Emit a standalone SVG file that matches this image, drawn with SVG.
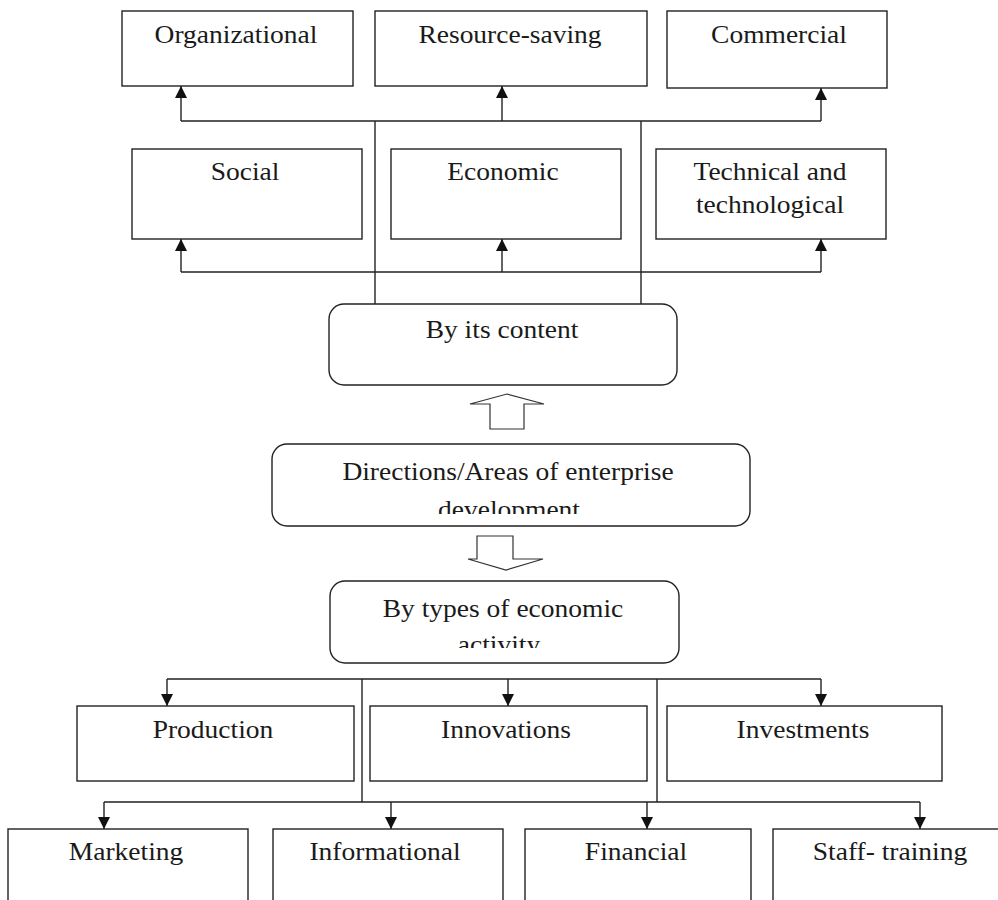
<svg xmlns="http://www.w3.org/2000/svg" width="998" height="900" viewBox="0 0 998 900">
<style>
.box{fill:#fff;stroke:#222;stroke-width:1.4}
.rbox{fill:#fff;stroke:#222;stroke-width:1.4}
.ln{fill:none;stroke:#222;stroke-width:1.4}
.arr{fill:none;stroke:#222;stroke-width:1.4;marker-end:url(#ah)}
.big{fill:#fff;stroke:#333;stroke-width:1.2}
text{font-family:"Liberation Serif","Times New Roman",serif;font-size:25px;fill:#1a1a1a;text-anchor:middle}
</style>
<defs>
<marker id="ah" markerUnits="userSpaceOnUse" markerWidth="12" markerHeight="12" refX="12" refY="6" orient="auto" viewBox="0 0 12 12">
<path d="M0,0 L12,6 L0,12 z" fill="#111"/>
</marker>
<clipPath id="clipDir"><rect x="272" y="444" width="478" height="70"/></clipPath>
<clipPath id="clipTypes"><rect x="330" y="581" width="349" height="67"/></clipPath>
</defs>
<rect width="998" height="900" fill="#fff"/>
<g id="connectors">
<path class="ln" d="M181,121 H821 M181,272 H821 M375,121 V304 M641,121 V304"/>
<path class="arr" d="M181,121 V86"/>
<path class="arr" d="M502,121 V86"/>
<path class="arr" d="M821,121 V88"/>
<path class="arr" d="M181,272 V239"/>
<path class="arr" d="M502,272 V239"/>
<path class="arr" d="M821,272 V239"/>
<path class="ln" d="M167,679 H821 M362,679 V802 M657,679 V802 M104,802 H920"/>
<path class="arr" d="M167,679 V706"/>
<path class="arr" d="M508,679 V706"/>
<path class="arr" d="M821,679 V706"/>
<path class="arr" d="M104,802 V829"/>
<path class="arr" d="M391,802 V829"/>
<path class="arr" d="M647,802 V829"/>
<path class="arr" d="M920,802 V829"/>
<polygon class="big" points="507,394 544,404 524,404 524,429 490,429 490,404 470,404"/>
<polygon class="big" points="477,536 513,536 513,559 543,559 506,570 468,559 477,559"/>
</g>
<g id="organizational"><rect class="box" x="122" y="11" width="231" height="75"/><text transform="translate(236,43) scale(1.1,1)">Organizational</text></g>
<g id="resource-saving"><rect class="box" x="375" y="11" width="272" height="75"/><text transform="translate(510,43) scale(1.1,1)">Resource-saving</text></g>
<g id="commercial"><rect class="box" x="667" y="11" width="220" height="77"/><text transform="translate(779,43) scale(1.1,1)">Commercial</text></g>
<g id="social"><rect class="box" x="132" y="149" width="230" height="90"/><text transform="translate(245,180) scale(1.1,1)">Social</text></g>
<g id="economic"><rect class="box" x="391" y="149" width="230" height="90"/><text transform="translate(503,180) scale(1.1,1)">Economic</text></g>
<g id="technical"><rect class="box" x="656" y="149" width="230" height="90"/><text transform="translate(770,180) scale(1.1,1)">Technical and</text><text transform="translate(770,213) scale(1.1,1)">technological</text></g>
<g id="by-content"><rect class="rbox" x="329" y="304" width="348" height="81" rx="15"/><text transform="translate(502,338) scale(1.1,1)">By its content</text></g>
<g id="directions"><rect class="rbox" x="272" y="444" width="478" height="82" rx="15"/><g clip-path="url(#clipDir)"><text transform="translate(508,480) scale(1.1,1)">Directions/Areas of enterprise</text><text transform="translate(509,518) scale(1.1,1)">development</text></g></g>
<g id="by-types"><rect class="rbox" x="330" y="581" width="349" height="82" rx="15"/><g clip-path="url(#clipTypes)"><text transform="translate(503,617) scale(1.1,1)">By types of economic</text><text transform="translate(499,653) scale(1.1,1)">activity</text></g></g>
<g id="production"><rect class="box" x="77" y="706" width="277" height="75"/><text transform="translate(213,738) scale(1.1,1)">Production</text></g>
<g id="innovations"><rect class="box" x="370" y="706" width="277" height="75"/><text transform="translate(506,738) scale(1.1,1)">Innovations</text></g>
<g id="investments"><rect class="box" x="667" y="706" width="275" height="75"/><text transform="translate(803,738) scale(1.1,1)">Investments</text></g>
<g id="marketing"><rect class="box" x="8" y="829" width="240" height="90"/><text transform="translate(126,860) scale(1.1,1)">Marketing</text></g>
<g id="informational"><rect class="box" x="273" y="829" width="230" height="90"/><text transform="translate(385,860) scale(1.1,1)">Informational</text></g>
<g id="financial"><rect class="box" x="525" y="829" width="226" height="90"/><text transform="translate(636,860) scale(1.1,1)">Financial</text></g>
<g id="staff-training"><rect class="box" x="773" y="829" width="240" height="90"/><text transform="translate(890,860) scale(1.1,1)">Staff- training</text></g>
</svg>
